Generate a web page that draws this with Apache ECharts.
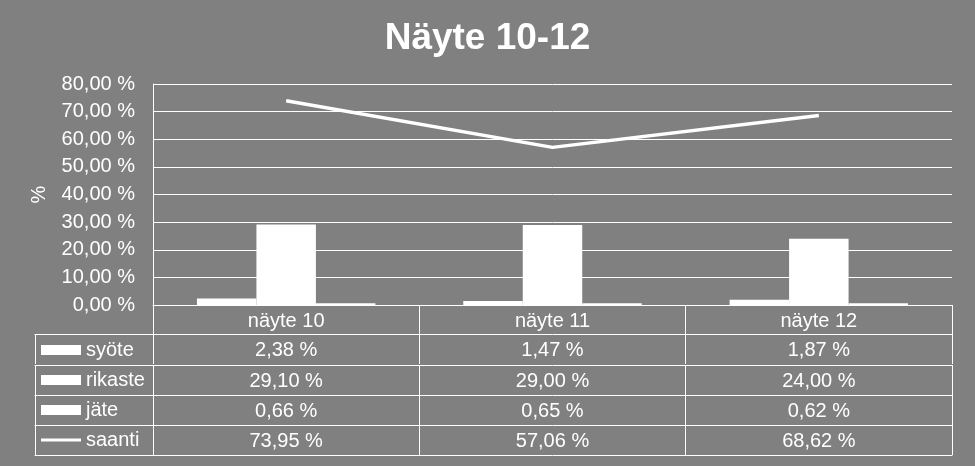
<!DOCTYPE html>
<html>
<head>
<meta charset="utf-8">
<script src="https://cdn.jsdelivr.net/npm/echarts@6/dist/echarts.min.js"></script>
<style>
html,body{margin:0;padding:0;background:#808080;}
#c{width:975px;height:466px;}
</style>
</head>
<body>
<div id="c"></div>
<script>
const categories = ['näyte 10', 'näyte 11', 'näyte 12'];
const seriesNames = ['syöte', 'rikaste', 'jäte', 'saanti'];
const syote = [2.38, 1.47, 1.87];
const rikaste = [29.10, 29.00, 24.00];
const jate = [0.66, 0.65, 0.62];
const saanti = [73.95, 57.06, 68.62];
const yMin = 0, yMax = 80, yStep = 10;

const FONT = 'Liberation Sans, Arial, sans-serif';
const W = '#ffffff';
const fmt = v => v.toFixed(2).replace('.', ',') + ' %';

const rows = [syote, rikaste, jate, saanti];
const rowOffsets = [29, 60, 90, 120];
const bottomOffset = 150;

const xAxes = [];
// header row (category names)
xAxes.push({
  type: 'category', gridIndex: 0, position: 'bottom', data: categories,
  axisLine: { show: true, lineStyle: { color: W, width: 1 } },
  axisTick: { show: true, length: 29, interval: 0, lineStyle: { color: W, width: 1 } },
  axisLabel: { color: W, fontSize: 20, fontFamily: FONT, margin: 6, interval: 0 },
  splitLine: { show: false }
});
// value rows
rows.forEach((arr, i) => {
  xAxes.push({
    type: 'category', gridIndex: 0, position: 'bottom', offset: rowOffsets[i],
    data: arr.map(fmt),
    axisLine: { show: true, lineStyle: { color: W, width: 1 } },
    axisTick: { show: true, length: 30, interval: 0, lineStyle: { color: W, width: 1 } },
    axisLabel: { color: W, fontSize: 20, fontFamily: FONT, margin: 6, interval: 0 },
    splitLine: { show: false }
  });
});
xAxes.push({
  type: 'category', gridIndex: 0, position: 'bottom', offset: bottomOffset,
  data: categories,
  axisLine: { show: true, lineStyle: { color: W, width: 1 } },
  axisTick: { show: false }, axisLabel: { show: false }, splitLine: { show: false }
});
// legend column borders (grid 1 bottom edge sits at the first value row)
const legOffsets = rowOffsets.map(o => o - rowOffsets[0]);
legOffsets.forEach(off => {
  xAxes.push({
    type: 'category', gridIndex: 1, position: 'bottom', offset: off, data: [''],
    axisLine: { show: true, lineStyle: { color: W, width: 1 } },
    axisTick: { show: true, length: 30, interval: 0, lineStyle: { color: W, width: 1 } },
    axisLabel: { show: false }, splitLine: { show: false }
  });
});
xAxes.push({
  type: 'category', gridIndex: 1, position: 'bottom', offset: bottomOffset - rowOffsets[0], data: [''],
  axisLine: { show: true, lineStyle: { color: W, width: 1 } },
  axisTick: { show: false }, axisLabel: { show: false }, splitLine: { show: false }
});

const option = {
  backgroundColor: '#808080',
  animation: false,
  textStyle: { fontFamily: FONT },
  title: {
    text: 'Näyte 10-12', left: 'center', top: 15,
    textStyle: { color: W, fontSize: 37, fontWeight: 'bold', fontFamily: FONT }
  },
  legend: {
    orient: 'vertical', left: 41, top: 340, padding: 0,
    itemWidth: 40, itemHeight: 10, itemGap: 10, symbolKeepAspect: true,
    textStyle: { color: W, fontSize: 20, fontFamily: FONT },
    data: [
      { name: seriesNames[0], icon: 'rect' },
      { name: seriesNames[1], icon: 'rect' },
      { name: seriesNames[2], icon: 'rect' },
      { name: seriesNames[3], icon: 'path://M0,0H40V3H0Z' }
    ],
    selectedMode: false
  },
  grid: [
    { left: 153, right: 23, top: 84, height: 221, containLabel: false },
    { left: 35, width: 118, top: 84, height: 250, containLabel: false, show: false }
  ],
  xAxis: xAxes,
  yAxis: [
    {
      type: 'value', gridIndex: 0, min: yMin, max: yMax, interval: yStep,
      name: '%', nameLocation: 'middle', nameRotate: 90, nameGap: 104,
      nameTextStyle: { color: W, fontSize: 20, fontFamily: FONT },
      axisLine: { show: true, lineStyle: { color: W, width: 1 } },
      axisTick: { show: false },
      axisLabel: { color: W, fontSize: 20, fontFamily: FONT, margin: 18, formatter: fmt },
      splitLine: { show: true, lineStyle: { color: W, width: 1 } }
    },
    { type: 'value', gridIndex: 1, min: 0, max: 1,
      axisLine: { show: false }, axisTick: { show: false }, axisLabel: { show: false },
      splitLine: { show: false } }
  ],
  series: [
    { name: seriesNames[0], type: 'bar', xAxisIndex: 0, yAxisIndex: 0, data: syote,
      barGap: '0%', barCategoryGap: '33%', itemStyle: { color: W } },
    { name: seriesNames[1], type: 'bar', xAxisIndex: 0, yAxisIndex: 0, data: rikaste,
      barGap: '0%', barCategoryGap: '33%', itemStyle: { color: W } },
    { name: seriesNames[2], type: 'bar', xAxisIndex: 0, yAxisIndex: 0, data: jate,
      barGap: '0%', barCategoryGap: '33%', itemStyle: { color: W } },
    { name: seriesNames[3], type: 'line', xAxisIndex: 0, yAxisIndex: 0, data: saanti,
      symbol: 'none', lineStyle: { color: W, width: 3.5 }, itemStyle: { color: W } }
  ]
};
const chart = echarts.init(document.getElementById('c'));
chart.setOption(option);
</script>
</body>
</html>
